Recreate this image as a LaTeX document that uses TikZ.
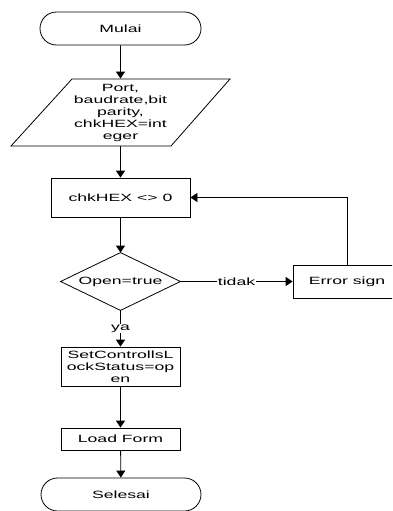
\documentclass[tikz,border=0pt]{standalone}
\usepackage{fontspec}
\setmainfont{Liberation Sans}[FakeStretch=1.68]
\usetikzlibrary{shapes.geometric,shapes.misc,arrows.meta}
\begin{document}
\begin{tikzpicture}[x=1pt,y=-1pt,
  font=\fontsize{10.5}{12}\selectfont,
  every node/.style={inner sep=0pt, align=center},
  term/.style={draw, rounded rectangle, minimum width=161pt, minimum height=33pt},
  proc/.style={draw, rectangle, minimum width=119pt},
  cond/.style={rectangle, minimum width=119pt, minimum height=57pt},
  conn/.style={-{Triangle[length=7pt,width=9pt]}},
  lbl/.style={fill=white, inner sep=1pt},
  line width=0.8pt]
\clip (0,0) rectangle (392,511);
\node[term] (start) at (120.5,28.5) {Mulai};
\node[minimum width=100pt, minimum height=67pt] (inp) at (120.5,112.5) {Port,\\baudrate,bit\\parity,\\chkHEX=int\\eger};
\draw (72,79) -- (230,79) -- (171,146) -- (11,146) -- cycle;
\node[proc, minimum width=139pt, minimum height=39pt] (chk) at (120.5,197.5) {chkHEX <> 0};
\node[cond] (dec) at (120.5,281.5) {Open=true};
\draw (dec.north) -- (dec.east) -- (dec.south) -- (dec.west) -- cycle;
\node[draw, minimum width=108pt, minimum height=33pt] (err) at (347,281.5) {Error sign};
\node[proc, minimum height=39pt] (set) at (120.5,366.5) {SetControllsL\\ockStatus=op\\en};
\node[proc, minimum height=22pt] (load) at (120.5,439) {Load Form};
\node[term, minimum width=160pt, minimum height=33pt] (end) at (121,494.5) {Selesai};
\draw[conn] (start) -- (inp);
\draw[conn] (inp) -- (chk);
\draw[conn] (chk) -- (dec);
\draw[conn] (dec) -- node[lbl]{tidak} (err);
\draw[conn] (dec) -- node[lbl]{ya} (set);
\draw[conn] (set) -- (load);
\draw[conn] (load) -- (end);
\draw[conn] (err.north) |- (chk.east);
\end{tikzpicture}
\end{document}
